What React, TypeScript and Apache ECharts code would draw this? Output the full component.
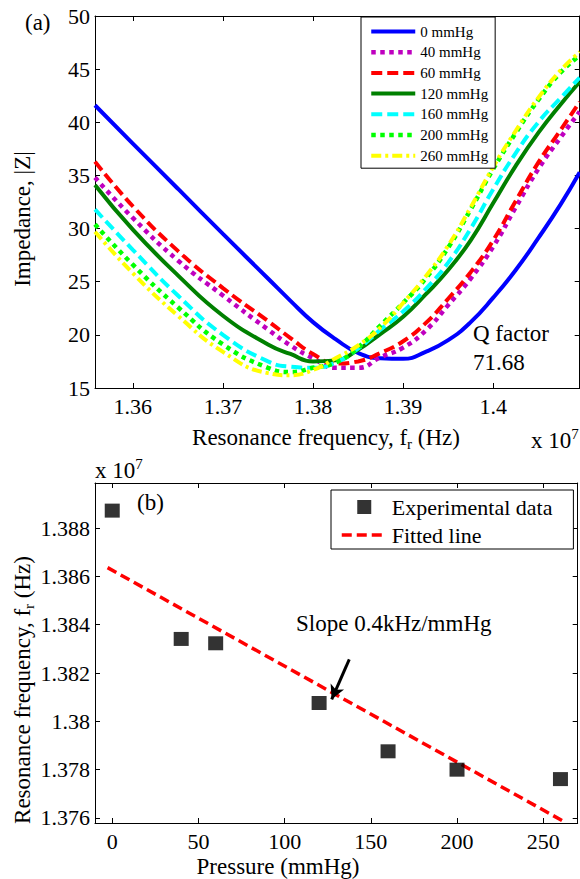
import React, { useEffect, useRef } from "react";
import * as echarts from "echarts";

// ---------- (a) Impedance vs resonance frequency ----------
const FREQ_HZ = [13558000, 13600000, 13650000, 13700000, 13750000, 13775000, 13800000, 13825000, 13850000, 13875000, 13900000, 13925000, 13950000, 13975000, 14000000, 14025000, 14050000, 14075000, 14096000];
const PRESSURE_LABELS = ["0 mmHg", "40 mmHg", "60 mmHg", "120 mmHg", "160 mmHg", "200 mmHg", "260 mmHg"];
const Z_0 = [41.6, 38.0, 33.75, 29.5, 25.3, 23.2, 21.2, 19.6, 18.3, 17.8, 17.75, 18.4, 19.5, 21.2, 23.5, 26.1, 29.1, 32.3, 35.3];
const Z_40 = [34.8, 31.0, 27.0, 23.7, 20.5, 19.0, 17.8, 16.9, 16.9, 17.9, 18.8, 20.4, 22.8, 25.3, 28.3, 32.0, 35.6, 38.6, 41.0];
const Z_60 = [36.3, 32.1, 27.9, 24.4, 21.3, 19.7, 18.2, 17.3, 17.5, 18.3, 19.4, 21.1, 23.4, 25.9, 28.9, 32.6, 36.2, 39.3, 41.9];
const Z_120 = [34.1, 29.9, 25.6, 21.8, 19.1, 18.2, 17.5, 17.6, 18.6, 20.1, 21.7, 23.8, 26.1, 28.9, 32.4, 35.9, 39.0, 41.7, 43.8];
const Z_160 = [31.8, 28.0, 23.7, 20.0, 17.5, 17.0, 16.9, 17.4, 18.7, 20.5, 22.2, 24.3, 26.8, 30.0, 33.7, 37.1, 40.0, 42.3, 44.2];
const Z_200 = [30.4, 26.6, 22.6, 19.1, 16.9, 16.5, 16.9, 17.4, 18.8, 20.9, 23.0, 25.3, 28.2, 31.8, 35.6, 39.0, 42.1, 44.7, 46.3];
const Z_260 = [29.7, 25.8, 21.8, 18.4, 16.4, 16.2, 16.7, 17.8, 19.0, 20.7, 23.0, 25.5, 28.4, 32.0, 35.8, 39.2, 42.3, 44.9, 46.6];
const Z_ALL = [Z_0, Z_40, Z_60, Z_120, Z_160, Z_200, Z_260];

const A_X_MIN = 13558000;
const A_X_MAX = 14096000;
const A_Y_MIN = 15;
const A_Y_MAX = 50;
const A_X_TICKS = [13600000, 13700000, 13800000, 13900000, 14000000];
const A_Y_TICKS = [15, 20, 25, 30, 35, 40, 45, 50];

// ---------- (b) Resonance frequency vs pressure ----------
const PRESSURE = [0, 40, 60, 120, 160, 200, 260];
const FR_HZ = [13887200, 13834100, 13832300, 13807600, 13787600, 13780000, 13776100];
const FIT_PRESSURE = [-2.7, 262.1];
const FIT_FR_HZ = [13863600, 13758500];
const ARROW_PRESSURE = [137.5, 127.3];
const ARROW_FR_HZ = [13825670, 13809110];

const B_X_MIN = -10;
const B_X_MAX = 270;
const B_Y_MIN = 13757930;
const B_Y_MAX = 13898630;
const B_X_TICKS = [0, 50, 100, 150, 200, 250];
const B_Y_TICKS = [13760000, 13780000, 13800000, 13820000, 13840000, 13860000, 13880000];

// ---------- styles ----------
const SERIF = "'Times New Roman', 'Liberation Serif', Times, serif";
const TICK_FS = 22;
const TITLE_FS = 23;
const SQUARE_ICON = "path://M0,0L10,0L10,10L0,10Z";

const A_STYLES: { color: string; type: any; width: number }[] = [
  { color: "#0000FF", type: "solid", width: 4 },
  { color: "#BF00BF", type: [4.5, 4.5], width: 4.5 },
  { color: "#FF0000", type: [11, 5], width: 4 },
  { color: "#008000", type: "solid", width: 4 },
  { color: "#00FFFF", type: [11, 5], width: 4 },
  { color: "#00FF00", type: [4.5, 4.5], width: 4.5 },
  { color: "#FFFF00", type: [10, 4, 3, 4], width: 4 },
];

const fmt1e7 = (v: number) => String(Number((v / 1e7).toFixed(4)));

function axisBase(extra: any) {
  return {
    type: "value",
    axisLine: { show: true, onZero: false, lineStyle: { color: "#000", width: 1 } },
    splitLine: { show: false },
    ...extra,
  };
}

function tickOpt(values: number[]) {
  return { show: true, inside: true, length: 5, customValues: values, lineStyle: { color: "#000", width: 1 } };
}

function labelOpt(values: number[], margin: number, formatter?: (v: number) => string) {
  return {
    show: true,
    customValues: values,
    margin,
    color: "#000",
    fontFamily: SERIF,
    fontSize: TICK_FS,
    ...(formatter ? { formatter } : {}),
  };
}

function textEl(text: string, x: number, y: number, fontSize: number, align = "left", extra: any = {}) {
  return {
    type: "text",
    x,
    y,
    silent: true,
    ...extra,
    style: {
      text,
      x: 0,
      y: 0,
      fill: "#000",
      fontFamily: SERIF,
      fontSize,
      align,
      textAlign: align,
      verticalAlign: "middle",
      textVerticalAlign: "middle",
      ...(extra.style || {}),
    },
  };
}

function richTok(fontSize: number, lineHeight: number, va: string) {
  return { fontFamily: SERIF, fontSize, lineHeight, fill: "#000", color: "#000", verticalAlign: va };
}

const RICH = {
  a: richTok(TITLE_FS, 28, "middle"),
  s: richTok(15, 15, "bottom"),
  p: richTok(15, 15, "top"),
};

export default function App() {
  const ref = useRef<HTMLDivElement>(null);

  useEffect(() => {
    document.body.style.margin = "0";
    const chart = echarts.init(ref.current!, null, { renderer: "svg" });

    const aSeries = PRESSURE_LABELS.map((name, i) => ({
      name,
      type: "line",
      xAxisIndex: 0,
      yAxisIndex: 0,
      data: FREQ_HZ.map((f, j) => [f, Z_ALL[i][j]]),
      smooth: 0.5,
      symbol: "none",
      showSymbol: false,
      clip: true,
      silent: true,
      lineStyle: { color: A_STYLES[i].color, width: A_STYLES[i].width, type: A_STYLES[i].type, cap: "butt" },
      itemStyle: { color: A_STYLES[i].color },
      emphasis: { disabled: true },
    }));

    const option: any = {
      animation: false,
      backgroundColor: "#fff",
      grid: [
        { left: 95, top: 16, width: 484.7, height: 372, outerBoundsMode: "none", containLabel: false },
        { left: 95, top: 483, width: 482.7, height: 340, outerBoundsMode: "none", containLabel: false },
      ],
      xAxis: [
        axisBase({ gridIndex: 0, position: "bottom", min: A_X_MIN, max: A_X_MAX, axisTick: tickOpt(A_X_TICKS), axisLabel: labelOpt(A_X_TICKS, 7, fmt1e7) }),
        axisBase({ gridIndex: 0, position: "top", min: A_X_MIN, max: A_X_MAX, axisTick: tickOpt(A_X_TICKS), axisLabel: { show: false } }),
        axisBase({ gridIndex: 1, position: "bottom", min: B_X_MIN, max: B_X_MAX, axisTick: tickOpt(B_X_TICKS), axisLabel: labelOpt(B_X_TICKS, 7) }),
        axisBase({ gridIndex: 1, position: "top", min: B_X_MIN, max: B_X_MAX, axisTick: tickOpt(B_X_TICKS), axisLabel: { show: false } }),
      ],
      yAxis: [
        axisBase({ gridIndex: 0, position: "left", min: A_Y_MIN, max: A_Y_MAX, axisTick: tickOpt(A_Y_TICKS), axisLabel: labelOpt(A_Y_TICKS, 5) }),
        axisBase({ gridIndex: 0, position: "right", min: A_Y_MIN, max: A_Y_MAX, axisTick: tickOpt(A_Y_TICKS), axisLabel: { show: false } }),
        axisBase({ gridIndex: 1, position: "left", min: B_Y_MIN, max: B_Y_MAX, axisTick: tickOpt(B_Y_TICKS), axisLabel: labelOpt(B_Y_TICKS, 5, fmt1e7) }),
        axisBase({ gridIndex: 1, position: "right", min: B_Y_MIN, max: B_Y_MAX, axisTick: tickOpt(B_Y_TICKS), axisLabel: { show: false } }),
      ],
      legend: [
        {
          data: PRESSURE_LABELS,
          orient: "vertical",
          left: 361,
          top: 17,
          padding: [7, 7, 5, 8],
          itemWidth: 44,
          itemHeight: 12,
          itemGap: 5.7,
          selectedMode: false,
          backgroundColor: "#fff",
          borderColor: "#000",
          borderWidth: 1,
          borderRadius: 0,
          itemStyle: { opacity: 0 },
          lineStyle: { width: "inherit" },
          textStyle: { fontFamily: SERIF, fontSize: 15, lineHeight: 15, color: "#000" },
        },
        {
          data: [
            { name: "Experimental data", icon: SQUARE_ICON },
            { name: "Fitted line", itemStyle: { opacity: 0 } },
          ],
          orient: "vertical",
          left: 331,
          top: 490,
          padding: [6, 21, 3, 9],
          itemWidth: 45,
          itemHeight: 14,
          itemGap: 6,
          selectedMode: false,
          symbolKeepAspect: true,
          backgroundColor: "#fff",
          borderColor: "#000",
          borderWidth: 1,
          borderRadius: 0,
          lineStyle: { width: "inherit" },
          textStyle: { fontFamily: SERIF, fontSize: TICK_FS, lineHeight: 22, color: "#000" },
        },
      ],
      series: [
        ...aSeries,
        {
          name: "Fitted line",
          type: "line",
          xAxisIndex: 2,
          yAxisIndex: 2,
          data: FIT_PRESSURE.map((p, i) => [p, FIT_FR_HZ[i]]),
          symbol: "none",
          showSymbol: false,
          silent: true,
          lineStyle: { color: "#FF0000", width: 3.5, type: [10, 5], cap: "butt" },
          itemStyle: { color: "#FF0000" },
          emphasis: { disabled: true },
        },
        {
          name: "Experimental data",
          type: "scatter",
          xAxisIndex: 2,
          yAxisIndex: 2,
          data: PRESSURE.map((p, i) => [p, FR_HZ[i]]),
          symbol: "rect",
          symbolSize: [15, 14],
          silent: true,
          itemStyle: { color: "#000" },
          emphasis: { disabled: true },
          z: 5,
          markLine: {
            silent: true,
            symbol: ["none", "arrow"],
            symbolSize: [11, 14],
            label: { show: false },
            lineStyle: { color: "#000", width: 3, type: "solid" },
            emphasis: { disabled: true },
            data: [[
              { coord: [ARROW_PRESSURE[0], ARROW_FR_HZ[0]] },
              { coord: [ARROW_PRESSURE[1], ARROW_FR_HZ[1]] },
            ]],
          },
        },
      ],
      graphic: [
        textEl("(a)", 25, 22, TITLE_FS),
        textEl("", 531, 440, TITLE_FS, "left", { style: { text: "{a|x 10}{p|7}", rich: RICH } }),
        textEl("", 326, 437, TITLE_FS, "center", { style: { text: "{a|Resonance frequency, f}{s|r}{a| (Hz)}", rich: RICH } }),
        textEl("Impedance, |Z|", 22, 219, TITLE_FS, "center", { rotation: Math.PI / 2 }),
        textEl("Q factor\n71.68", 473, 347.5, TITLE_FS, "left", { style: { lineHeight: 29 } }),
        textEl("(b)", 137, 502, TITLE_FS),
        textEl("", 95, 470, TITLE_FS, "left", { style: { text: "{a|x 10}{p|7}", rich: RICH } }),
        textEl("Slope 0.4kHz/mmHg", 296, 623, TITLE_FS),
        textEl("Pressure (mmHg)", 278, 866, TITLE_FS, "center"),
        textEl("", 22, 690, TITLE_FS, "center", { rotation: Math.PI / 2, style: { text: "{a|Resonance frequency, f}{s|r}{a| (Hz)}", rich: RICH } }),
      ],
    };

    chart.setOption(option);
    return () => chart.dispose();
  }, []);

  return <div ref={ref} style={{ width: 580, height: 879 }} />;
}
